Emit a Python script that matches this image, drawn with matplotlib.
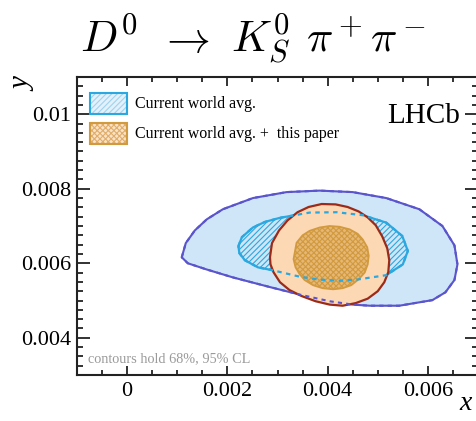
import numpy as np
import matplotlib
matplotlib.use("Agg")
import matplotlib.pyplot as plt
from matplotlib.patches import Polygon, Rectangle
from matplotlib.ticker import MultipleLocator, FuncFormatter

plt.rcParams['mathtext.fontset'] = 'cm'
plt.rcParams['font.family'] = 'Liberation Serif'
plt.rcParams['hatch.linewidth'] = 0.8

# 95% CL contour, current world average
outer_x = [0.00109, 0.00117, 0.00135, 0.00159, 0.00191, 0.00251, 0.00318, 0.00384, 0.00450,
           0.00517, 0.00583, 0.00629, 0.00653, 0.00659, 0.00653, 0.00635, 0.00609, 0.00543,
           0.00484, 0.00450, 0.00404, 0.00344, 0.00285, 0.00211, 0.00157, 0.00121]
outer_y = [0.00616, 0.00654, 0.00688, 0.00718, 0.00745, 0.00775, 0.00791, 0.00795, 0.00791,
           0.00775, 0.00745, 0.00700, 0.00648, 0.00597, 0.00555, 0.00522, 0.00501, 0.00486,
           0.00486, 0.00489, 0.00498, 0.00516, 0.00536, 0.00562, 0.00584, 0.00600]

# 68% CL contour, current world average
wa68_x = [0.00222, 0.00229, 0.00251, 0.00275, 0.00305, 0.00364, 0.00418, 0.00470, 0.00517,
          0.00549, 0.00560, 0.00550, 0.00517, 0.00458, 0.00424, 0.00384, 0.00344, 0.00291,
          0.00261, 0.00235, 0.00224]
wa68_y = [0.00646, 0.00670, 0.00696, 0.00711, 0.00722, 0.00736, 0.00737, 0.00729, 0.00709,
          0.00673, 0.00633, 0.00597, 0.00568, 0.00556, 0.00553, 0.00556, 0.00564, 0.00581,
          0.00589, 0.00608, 0.00627]

# 95% CL contour, world average + this paper
new95_x = [0.00285, 0.00289, 0.00303, 0.00320, 0.00340, 0.00362, 0.00388, 0.00416, 0.00440,
           0.00462, 0.00480, 0.00496, 0.00509, 0.00519, 0.00523, 0.00521, 0.00513, 0.00500,
           0.00480, 0.00456, 0.00430, 0.00404, 0.00376, 0.00348, 0.00324, 0.00305, 0.00292,
           0.00286]
new95_y = [0.00616, 0.00654, 0.00688, 0.00715, 0.00737, 0.00751, 0.00759, 0.00758, 0.00751,
           0.00739, 0.00723, 0.00702, 0.00672, 0.00640, 0.00608, 0.00576, 0.00549, 0.00525,
           0.00505, 0.00493, 0.00486, 0.00489, 0.00498, 0.00512, 0.00528, 0.00549, 0.00576,
           0.00597]

# 68% CL contour, world average + this paper
new68_x = [0.00332, 0.00338, 0.00350, 0.00364, 0.00384, 0.00404, 0.00424, 0.00444, 0.00460,
           0.00470, 0.00479, 0.00482, 0.00480, 0.00474, 0.00462, 0.00447, 0.00430, 0.00411,
           0.00390, 0.00371, 0.00354, 0.00344, 0.00336]
new68_y = [0.00611, 0.00655, 0.00675, 0.00687, 0.00696, 0.00700, 0.00698, 0.00691, 0.00679,
           0.00664, 0.00643, 0.00620, 0.00597, 0.00575, 0.00557, 0.00541, 0.00533, 0.00530,
           0.00533, 0.00541, 0.00555, 0.00571, 0.00589]

x_ticks = [0, 0.002, 0.004, 0.006]
y_ticks = [0.004, 0.006, 0.008, 0.01]

title_parts = [r'$D^0$', r'$\rightarrow$', r'$K_S^0$', r'$\pi^+$', r'$\pi^-$']
title_left_px = [80, 159, 231, 306, 370]

light_blue = '#cfe5f8'
purple = '#5a55cc'
cyan = '#2aa8df'
peach = '#fdd8b4'
dark_red = '#9c2a18'
gold = '#d29a3e'
gold_fill = '#e6b775'

W, H = 476, 421
fig = plt.figure(figsize=(W / 100, H / 100), dpi=100)
ax = fig.add_axes([77 / W, 1 - 375 / H, 401 / W, 298 / H])


def poly(xs, ys, **kw):
    return Polygon(np.column_stack([xs, ys]), closed=True, **kw)


# world average contours
ax.add_patch(poly(outer_x, outer_y, facecolor=light_blue, edgecolor=purple, lw=1.5, zorder=1))
ax.add_patch(poly(wa68_x, wa68_y, facecolor=light_blue, edgecolor='none', zorder=2))
ax.add_patch(poly(wa68_x, wa68_y, facecolor='none', edgecolor=cyan, lw=0, hatch='//////', zorder=2))
ax.add_patch(poly(wa68_x, wa68_y, facecolor='none', edgecolor=cyan, lw=1.6, zorder=2))

# world average + this paper
ax.add_patch(poly(new95_x, new95_y, facecolor=peach, edgecolor=dark_red, lw=1.6, zorder=3))
ax.add_patch(poly(new68_x, new68_y, facecolor=gold_fill, edgecolor='none', zorder=4))
ax.add_patch(poly(new68_x, new68_y, facecolor='none', edgecolor=gold, lw=0, hatch='xxxxxx', zorder=4))
ax.add_patch(poly(new68_x, new68_y, facecolor='none', edgecolor=gold, lw=1.3, zorder=4))

# hidden parts of the world average contours shown dashed
ax.add_patch(poly(outer_x, outer_y, facecolor='none', edgecolor=purple, lw=1.5,
                  linestyle=(0, (2, 2)), zorder=5))
ax.add_patch(poly(wa68_x, wa68_y, facecolor='none', edgecolor=cyan, lw=1.6,
                  linestyle=(0, (2, 2)), zorder=5))

ax.set_xlim(-0.001, 0.007)
ax.set_ylim(0.003, 0.011)
ax.set_xticks(x_ticks)
ax.set_yticks(y_ticks)
ax.xaxis.set_minor_locator(MultipleLocator(0.0005))
ax.yaxis.set_minor_locator(MultipleLocator(0.00025))
fmt = FuncFormatter(lambda v, p: '%g' % v)
ax.xaxis.set_major_formatter(fmt)
ax.yaxis.set_major_formatter(fmt)
ax.tick_params(which='both', direction='in', top=True, right=True, colors='#222222',
               labelsize=16, labelcolor='black', width=1.3)
ax.tick_params(axis='x', which='major', length=6.5, pad=5)
ax.tick_params(axis='x', which='minor', length=3.6)
ax.tick_params(axis='y', which='major', length=9.4, pad=4)
ax.tick_params(axis='y', which='minor', length=4.5)
for s in ax.spines.values():
    s.set_linewidth(1.5)
    s.set_color('#222222')

# title, set piece by piece to follow the LaTeX spacing
for part, xl in zip(title_parts, title_left_px):
    fig.text(xl / W, 1 - 52 / H, part, ha='left', va='baseline', fontsize=31.5)

fig.text(23 / W, 1 - 85 / H, 'y', rotation=90, ha='center', va='center',
         fontsize=21, fontstyle='italic')
fig.text(466 / W, 1 - 404 / H, 'x', ha='center', va='center', fontsize=20, fontstyle='italic')
fig.text(460 / W, 1 - 123 / H, 'LHCb', ha='right', va='baseline', fontsize=21)
fig.text(88 / W, 1 - 362 / H, 'contours hold 68%, 95% CL', ha='left', va='baseline',
         fontsize=10.3, color='#9a9a9a')

# legend
def fig_rect(x0, y0, w, h, **kw):
    fig.add_artist(Rectangle((x0 / W, 1 - (y0 + h) / H), w / W, h / H,
                             transform=fig.transFigure, **kw))


fig_rect(90, 93, 37, 21, facecolor='#e3f1fb', edgecolor='none')
fig_rect(90, 93, 37, 21, facecolor='none', edgecolor='#9fd3ef', lw=0, hatch='//////')
fig_rect(90, 93, 37, 21, facecolor='none', edgecolor=cyan, lw=1.5)
fig_rect(90, 123, 37, 21, facecolor='#fbe3c6', edgecolor='none')
fig_rect(90, 123, 37, 21, facecolor='none', edgecolor='#e0ad6a', lw=0, hatch='xxxxxx')
fig_rect(90, 123, 37, 21, facecolor='none', edgecolor=gold, lw=1.5)
fig.text(135 / W, 1 - 103.5 / H, 'Current world avg.', ha='left', va='center', fontsize=11.5)
fig.text(135 / W, 1 - 133.5 / H, 'Current world avg. +  this paper', ha='left', va='center',
         fontsize=11.5)

fig.savefig('out.png', dpi=100)
